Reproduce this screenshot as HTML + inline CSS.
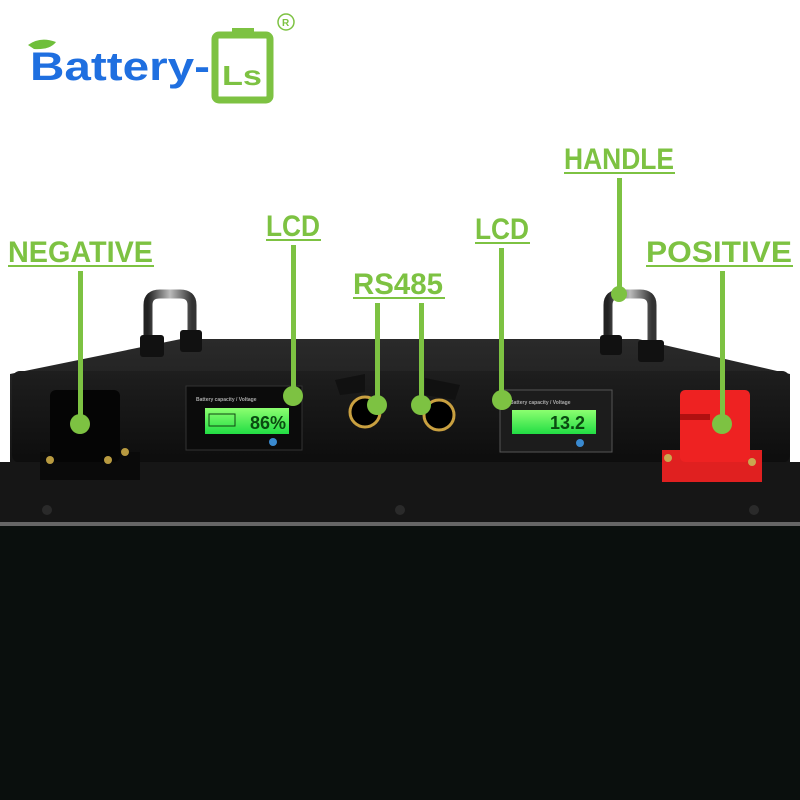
<!DOCTYPE html>
<html><head><meta charset="utf-8"><style>
html,body{margin:0;padding:0;background:#fff;width:800px;height:800px;overflow:hidden}
svg{display:block}
text{font-family:"Liberation Sans",sans-serif;font-weight:bold}
</style></head><body>
<svg width="800" height="800" viewBox="0 0 800 800">
<defs>
<linearGradient id="top" x1="0" y1="0" x2="0" y2="1"><stop offset="0" stop-color="#2a2a2a"/><stop offset="1" stop-color="#151515"/></linearGradient>
<linearGradient id="front" x1="0" y1="0" x2="0" y2="1"><stop offset="0" stop-color="#1e1e1e"/><stop offset="1" stop-color="#0d0d0d"/></linearGradient>
<linearGradient id="chrome" x1="0" y1="0" x2="1" y2="0"><stop offset="0" stop-color="#222"/><stop offset="0.5" stop-color="#bbb"/><stop offset="1" stop-color="#333"/></linearGradient>
<linearGradient id="lcd" x1="0" y1="0" x2="0" y2="1"><stop offset="0" stop-color="#8cff70"/><stop offset="1" stop-color="#22dd44"/></linearGradient>
</defs>
<!-- logo -->
<path d="M28 45 Q40 36 56 42 Q50 50 34 49Z" fill="#6fbf3a"/>
<text x="30" y="80" font-size="40" fill="#1f6fe0" textLength="180" lengthAdjust="spacingAndGlyphs">Battery-</text>
<rect x="215" y="35" width="55" height="65" rx="4" fill="none" stroke="#7dc242" stroke-width="7"/>
<rect x="232" y="28" width="22" height="9" fill="#7dc242"/>
<text x="222" y="85" font-size="28" fill="#7dc242" textLength="40" lengthAdjust="spacingAndGlyphs">Ls</text>
<circle cx="286" cy="22" r="8" fill="none" stroke="#7dc242" stroke-width="1.5"/>
<text x="282" y="26" font-size="10" fill="#7dc242" font-weight="normal">R</text>
<!-- handles -->
<path d="M148 345 L148 305 Q148 294 160 294 L180 294 Q192 294 192 305 L192 345" fill="none" stroke="url(#chrome)" stroke-width="9"/>
<path d="M608 345 L608 305 Q608 294 620 294 L640 294 Q652 294 652 305 L652 350" fill="none" stroke="url(#chrome)" stroke-width="9"/>
<!-- box -->
<path d="M181 339 L638 339 L790 374 L790 462 L10 462 L10 374 Z" fill="url(#top)"/>
<rect x="12" y="371" width="778" height="92" rx="8" fill="url(#front)"/>
<rect x="140" y="335" width="24" height="22" rx="3" fill="#111"/>
<rect x="180" y="330" width="22" height="22" rx="3" fill="#111"/>
<rect x="600" y="335" width="22" height="20" rx="3" fill="#111"/>
<rect x="638" y="340" width="26" height="22" rx="3" fill="#111"/>
<rect x="0" y="462" width="800" height="62" fill="#161616"/>
<rect x="0" y="522" width="800" height="4" fill="#666"/>
<rect x="0" y="526" width="800" height="274" fill="#0a0f0d"/>
<circle cx="47" cy="510" r="5" fill="#2a2a2a"/><circle cx="400" cy="510" r="5" fill="#2a2a2a"/><circle cx="754" cy="510" r="5" fill="#2a2a2a"/>
<!-- negative terminal -->
<rect x="40" y="452" width="100" height="28" fill="#0a0a0a"/>
<rect x="50" y="390" width="70" height="72" rx="6" fill="#050505"/>
<circle cx="50" cy="460" r="4" fill="#b89a40"/><circle cx="108" cy="460" r="4" fill="#b89a40"/><circle cx="125" cy="452" r="4" fill="#b89a40"/>
<!-- positive terminal -->
<rect x="662" y="450" width="100" height="32" fill="#e02020"/>
<rect x="680" y="390" width="70" height="72" rx="5" fill="#ee2222"/>
<rect x="680" y="414" width="30" height="6" fill="#b01010"/>
<circle cx="668" cy="458" r="4" fill="#c9a850"/><circle cx="752" cy="462" r="4" fill="#c9a850"/>
<!-- LCD 1 -->
<rect x="186" y="386" width="116" height="64" fill="#0b0b0b" stroke="#333"/>
<text x="196" y="401" font-size="5" fill="#aaa" font-weight="normal">Battery capacity / Voltage</text>
<rect x="205" y="408" width="84" height="26" fill="url(#lcd)"/>
<rect x="209" y="414" width="26" height="12" fill="none" stroke="#114411"/>
<text x="250" y="429" font-size="18" fill="#0a4a10" font-weight="normal">86%</text>
<circle cx="273" cy="442" r="4" fill="#3a8ad0"/>
<!-- connectors -->
<path d="M335 380 L365 374 L365 392 L340 395Z" fill="#111"/>
<circle cx="365" cy="412" r="15" fill="#000" stroke="#c9a040" stroke-width="3"/>
<path d="M425 378 L460 385 L455 400 L425 395Z" fill="#111"/>
<circle cx="439" cy="415" r="15" fill="#000" stroke="#c9a040" stroke-width="3"/>
<!-- LCD 2 -->
<rect x="500" y="390" width="112" height="62" fill="#1c1c1c" stroke="#555"/>
<text x="510" y="404" font-size="5" fill="#aaa" font-weight="normal">Battery capacity / Voltage</text>
<rect x="512" y="410" width="84" height="24" fill="url(#lcd)"/>
<text x="550" y="429" font-size="18" fill="#0a4a10" font-weight="normal">13.2</text>
<circle cx="580" cy="443" r="4" fill="#3a8ad0"/>
<!-- labels -->
<g fill="#7dc242">
<text x="8" y="262" font-size="30" textLength="145" lengthAdjust="spacingAndGlyphs">NEGATIVE</text>
<rect x="8" y="265" width="146" height="2"/>
<rect x="78" y="271" width="5" height="150"/><circle cx="80" cy="424" r="10"/>
<text x="266" y="236" font-size="30" textLength="54" lengthAdjust="spacingAndGlyphs">LCD</text>
<rect x="266" y="239" width="55" height="2"/>
<rect x="291" y="245" width="5" height="150"/><circle cx="293" cy="396" r="10"/>
<text x="353" y="294" font-size="30" textLength="90" lengthAdjust="spacingAndGlyphs">RS485</text>
<rect x="353" y="297" width="92" height="2"/>
<rect x="375" y="303" width="5" height="100"/><circle cx="377" cy="405" r="10"/>
<rect x="419" y="303" width="5" height="100"/><circle cx="421" cy="405" r="10"/>
<text x="475" y="239" font-size="30" textLength="54" lengthAdjust="spacingAndGlyphs">LCD</text>
<rect x="475" y="242" width="55" height="2"/>
<rect x="499" y="248" width="5" height="150"/><circle cx="502" cy="400" r="10"/>
<text x="564" y="169" font-size="30" textLength="110" lengthAdjust="spacingAndGlyphs">HANDLE</text>
<rect x="564" y="172" width="111" height="2"/>
<rect x="617" y="178" width="5" height="115"/><circle cx="619" cy="294" r="8"/>
<text x="646" y="262" font-size="30" textLength="146" lengthAdjust="spacingAndGlyphs">POSITIVE</text>
<rect x="646" y="265" width="147" height="2"/>
<rect x="720" y="271" width="5" height="150"/><circle cx="722" cy="424" r="10"/>
</g>
</svg>
</body></html>
